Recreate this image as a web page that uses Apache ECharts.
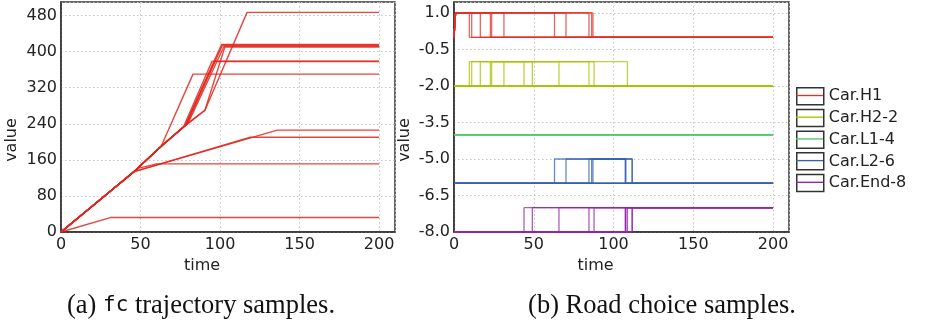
<!DOCTYPE html>
<html>
<head>
<meta charset="utf-8">
<script src="https://cdn.jsdelivr.net/npm/echarts@6/dist/echarts.min.js"></script>
<style>
  html, body { margin: 0; padding: 0; background: #fff; }
  #EchartDiv { width: 926px; height: 328px; }
</style>
</head>
<body>
<div id="EchartDiv"></div>
<script>
// ---- (a) fc trajectory samples: [time, value] corners ----
var fc01 = [[0, 0], [31, 32], [200, 32]];
var fc02 = [[0, 0], [48.5, 141], [60, 151], [200, 151]];
var fc03 = [[0, 0], [46, 134], [119, 210], [200, 210]];
var fc04 = [[0, 0], [46, 134], [136, 226], [200, 226]];
var fc05 = [[0, 0], [46, 134], [63, 190], [83, 350], [200, 350]];
var fc06 = [[0, 0], [46, 134], [63, 190], [77, 233], [95, 379], [200, 379]];
var fc07 = [[0, 0], [46, 134], [63, 190], [78, 235], [96.5, 378], [200, 378]];
var fc08 = [[0, 0], [46, 134], [63, 190], [78, 236], [101, 416], [200, 416]];
var fc09 = [[0, 0], [46, 134], [63, 190], [79, 239], [101.5, 414], [200, 414]];
var fc10 = [[0, 0], [46, 134], [63, 190], [80, 242], [102.5, 412], [200, 412]];
var fc11 = [[0, 0], [46, 134], [63, 190], [77, 233], [90.5, 270], [103, 410], [200, 410]];
var fc12 = [[0, 0], [46, 134], [63, 190], [77, 233], [90.5, 270], [117, 487], [200, 487]];
var fcSamples = [fc01, fc02, fc03, fc04, fc05, fc06, fc07, fc08, fc09, fc10, fc11, fc12];

// ---- (b) road choice samples ----
var roadNames  = ['Car.H1', 'Car.H2-2', 'Car.L1-4', 'Car.L2-6', 'Car.End-8'];
var roadBase   = [0, -2, -4, -6, -8];      // value when the car is not on the road
var roadColors = ['#e2302a', '#a6c600', '#58c46c', '#3661b0', '#9424aa'];
var endTime    = 200;
var startH1    = 1;
// time each sample leaves road H1
var h1Leave  = [9.6, 11.1, 16.5, 22.8, 23.6, 31.3, 63.0, 70.2, 84.6, 86.3, 87.1];
// [enter, leave] on H2 and L2
var h2Spans  = [[9.6, 43.9], [11.1, 49.1], [16.5, 65.8], [22.8, 84.6], [23.6, 87.8], [31.3, 108.7]];
var l2Spans  = [[63.0, 107.5], [70.2, 111.6], [84.6, 107.7], [86.3, 111.8], [87.1, 107.4]];
// time each sample reaches the end road
var endEnter = [43.9, 49.1, 65.8, 84.6, 87.8, 108.7, 107.5, 111.6, 107.7, 111.8, 107.4];

var xTicks = { min: 0, max: 210, interval: 50 };
var yTicksA = { min: 0, max: 510, interval: 80 };
var yTicksB = { min: -8, max: 1.45, interval: 1.5 };

var myChart = echarts.init(document.getElementById('EchartDiv'));

var labelFont = { fontFamily: 'DejaVu Sans', fontSize: 16, color: '#222' };
var gridDots = { color: '#c4c4c4', type: [1.5, 2.5], width: 1 };

function makeXAxis(idx) {
	return {
		type: 'value', gridIndex: idx,
		min: xTicks.min, max: xTicks.max, interval: xTicks.interval,
		name: 'time', nameLocation: 'middle', nameGap: 26,
		nameTextStyle: { fontFamily: 'DejaVu Sans', fontSize: 16, color: '#222', padding: [0, 52, 0, 0] },
		axisLine: { show: true, onZero: false, lineStyle: { color: '#333', width: 1.5 } },
		axisTick: { show: false },
		axisLabel: { margin: 5, showMaxLabel: false, fontFamily: labelFont.fontFamily, fontSize: labelFont.fontSize, color: labelFont.color },
		splitLine: { show: true, lineStyle: gridDots }
	};
}
function makeYAxis(idx, t, fmt) {
	return {
		type: 'value', gridIndex: idx,
		min: t.min, max: t.max, interval: t.interval,
		name: 'value', nameLocation: 'middle', nameGap: 41,
		nameTextStyle: { fontFamily: 'DejaVu Sans', fontSize: 16, color: '#222', padding: [0, 46, 0, 0] },
		axisLine: { show: true, onZero: false, lineStyle: { color: '#333', width: 1.5 } },
		axisTick: { show: false },
		axisLabel: { margin: 4, showMaxLabel: false, formatter: fmt, fontFamily: labelFont.fontFamily, fontSize: labelFont.fontSize, color: labelFont.color },
		splitLine: { show: true, lineStyle: gridDots }
	};
}

var series = [];
//左图 轨迹
for (var i = 0; i < fcSamples.length; i++) {
	series.push({
		type: 'line', name: 'fc' + (i + 1), xAxisIndex: 0, yAxisIndex: 0,
		data: fcSamples[i], symbol: 'none', silent: true,
		itemStyle: { color: '#e2261c' },
		lineStyle: { color: '#e2261c', width: 1.4, opacity: 0.85 }
	});
}
//右图 路线选择
function roadLine(r, pts) {
	series.push({
		type: 'line', name: roadNames[r], xAxisIndex: 1, yAxisIndex: 1,
		step: 'end', data: pts, symbol: 'none', silent: true,
		itemStyle: { color: roadColors[r] },
		lineStyle: { color: roadColors[r], width: 1.3, opacity: 0.75 }
	});
}
for (var i = 0; i < h1Leave.length; i++) {
	var b = roadBase[0];
	roadLine(0, [[0, b], [startH1, b + 1], [h1Leave[i], b], [endTime, b]]);
}
for (var i = 0; i < h1Leave.length; i++) {
	var b = roadBase[1];
	if (i < h2Spans.length) {
		roadLine(1, [[0, b], [h2Spans[i][0], b + 1], [h2Spans[i][1], b], [endTime, b]]);
	} else {
		roadLine(1, [[0, b], [endTime, b]]);
	}
}
for (var i = 0; i < h1Leave.length; i++) {
	roadLine(2, [[0, roadBase[2]], [endTime, roadBase[2]]]);
}
for (var i = 0; i < h1Leave.length; i++) {
	var b = roadBase[3];
	var k = i - h2Spans.length;
	if (k >= 0 && k < l2Spans.length) {
		roadLine(3, [[0, b], [l2Spans[k][0], b + 1], [l2Spans[k][1], b], [endTime, b]]);
	} else {
		roadLine(3, [[0, b], [endTime, b]]);
	}
}
for (var i = 0; i < endEnter.length; i++) {
	var b = roadBase[4];
	roadLine(4, [[0, b], [endEnter[i], b + 1], [endTime, b + 1]]);
}

// 两层图例: 底层画方框和文字, 上层只画彩色线
var legendBase = {
	orient: 'vertical', left: 791, top: 82,
	itemWidth: 27, itemHeight: 17,
	selectedMode: false, data: roadNames
};

var option = {
	animation: false,
	grid: [
		{ left: 61, right: 531, top: 2, bottom: 96, show: true, borderColor: '#333', borderWidth: 1.5 },
		{ left: 454, right: 137, top: 2, bottom: 96, show: true, borderColor: '#333', borderWidth: 1.5 }
	],
	xAxis: [makeXAxis(0), makeXAxis(1)],
	yAxis: [
		makeYAxis(0, yTicksA, function (v) { return String(v); }),
		makeYAxis(1, yTicksB, function (v) { return v.toFixed(1); })
	],
	legend: [
		echarts.util.extend({
			icon: 'rect', z: 4, itemGap: 3.2,
			itemStyle: { color: '#fff', borderColor: '#333', borderWidth: 1.5 },
			textStyle: { fontFamily: 'DejaVu Sans', fontSize: 16, color: '#222', lineHeight: 17 }
		}, legendBase),
		echarts.util.extend({
			icon: 'path://M0,0H40V2H0Z', z: 5, itemGap: 4.7,
			itemStyle: { borderWidth: 0 },
			textStyle: { fontFamily: 'DejaVu Sans', fontSize: 16, color: 'rgba(0,0,0,0)', lineHeight: 17 }
		}, legendBase)
	],
	graphic: [
		{
			type: 'text', x: 201, y: 306,
			style: {
				text: '(a) {tt|fc} trajectory samples.',
				align: 'center', verticalAlign: 'middle',
				fontFamily: 'Liberation Serif', fontSize: 26.5, fill: '#111',
				rich: { tt: { fontFamily: 'DejaVu Sans Mono', fontSize: 21, fill: '#111' } }
			}
		},
		{
			type: 'text', x: 662, y: 306,
			style: {
				text: '(b) Road choice samples.',
				align: 'center', verticalAlign: 'middle',
				fontFamily: 'Liberation Serif', fontSize: 26.5, fill: '#111'
			}
		}
	],
	series: series
};
myChart.setOption(option);
</script>
</body>
</html>
